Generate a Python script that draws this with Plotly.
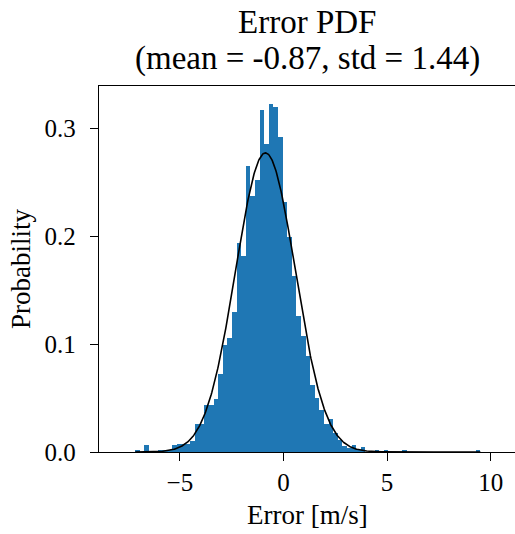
import numpy as np
import plotly.graph_objects as go

# ---- data ----
bin_left = -7.15          # left edge of first histogram bin
bin_width = 0.222         # histogram bin width
densities = [
    0.0018, 0.0, 0.0068, 0.0, 0.0, 0.0018, 0.0018, 0.0018, 0.0068, 0.0075,
    0.0077, 0.0077, 0.0098, 0.026, 0.026, 0.044, 0.044, 0.049, 0.0725, 0.099,
    0.1055, 0.130, 0.1935, 0.182, 0.265, 0.237, 0.2515, 0.317, 0.2855, 0.3225,
    0.3194, 0.2916, 0.2315, 0.1996, 0.1626, 0.1256, 0.107, 0.0885, 0.0623, 0.050,
    0.039, 0.026, 0.0308, 0.0176, 0.0114, 0.0052, 0.0037, 0.0068, 0.0018, 0.0046,
    0.0, 0.0, 0.0018, 0.0, 0.0018, 0.0, 0.0, 0.0, 0.0018, 0.0,
    0.0, 0.0, 0.0, 0.0, 0.0, 0.0, 0.0, 0.0, 0.0, 0.0,
    0.0, 0.0, 0.0, 0.0, 0.0018,
]
fit_mean = -0.87
fit_std = 1.44
x_ticks = [-5, 0, 5, 10]
y_ticks = [0.0, 0.1, 0.2, 0.3]
title_line1 = "Error PDF"
title_line2 = "(mean = -0.87, std = 1.44)"
x_label = "Error [m/s]"
y_label = "Probability"

n_bins = len(densities)
centers = [bin_left + bin_width * (i + 0.5) for i in range(n_bins)]

# fitted normal pdf from the stated mean / std
xs = np.linspace(bin_left, bin_left + bin_width * n_bins, 600)
pdf = np.exp(-0.5 * ((xs - fit_mean) / fit_std) ** 2) / (fit_std * np.sqrt(2 * np.pi))

FONT = "Liberation Serif"
TICK = 25
LBL = 27
TTL = 33

fig = go.Figure()
fig.add_trace(go.Bar(x=centers, y=densities, width=bin_width,
                     marker=dict(color="#1f77b4", line=dict(width=0)),
                     showlegend=False, hoverinfo="skip"))
fig.add_trace(go.Scatter(x=xs, y=pdf, mode="lines",
                         line=dict(color="black", width=1.6),
                         showlegend=False, hoverinfo="skip"))

fig.update_layout(
    width=515, height=534,
    margin=dict(l=99, r=0, t=86, b=82),
    paper_bgcolor="white", plot_bgcolor="white",
    font=dict(family=FONT, size=TICK, color="black"),
    bargap=0,
)
annos = [
    dict(text=title_line1, x=0.5, y=1, xref="paper", yref="paper",
         xanchor="center", yanchor="bottom", yshift=44, showarrow=False,
         font=dict(family=FONT, size=TTL)),
    dict(text=title_line2, x=0.5, y=1, xref="paper", yref="paper",
         xanchor="center", yanchor="bottom", yshift=7, showarrow=False,
         font=dict(family=FONT, size=TTL)),
    dict(text=x_label, x=0.5, y=0, xref="paper", yref="paper",
         xanchor="center", yanchor="top", yshift=-46, showarrow=False,
         font=dict(family=FONT, size=LBL)),
    dict(text=y_label, x=0, y=0.5, xref="paper", yref="paper",
         xanchor="center", yanchor="middle", xshift=-78, textangle=-90,
         showarrow=False, font=dict(family=FONT, size=LBL)),
]
fig.update_layout(annotations=annos)
fig.update_xaxes(range=[-8.9, 11.17], tickvals=x_ticks, ticks="outside",
                 ticklen=8, tickwidth=1.3, tickcolor="black",
                 showline=True, linecolor="black", linewidth=1.3, mirror=True,
                 showgrid=False, zeroline=False, ticklabelstandoff=0)
fig.update_yaxes(range=[0, 0.339], tickvals=y_ticks, tickformat=".1f",
                 ticks="outside", ticklen=8, tickwidth=1.3, tickcolor="black",
                 showline=True, linecolor="black", linewidth=1.3, mirror=False,
                 showgrid=False, zeroline=False, ticklabelstandoff=9)

fig.write_html("out.html")
